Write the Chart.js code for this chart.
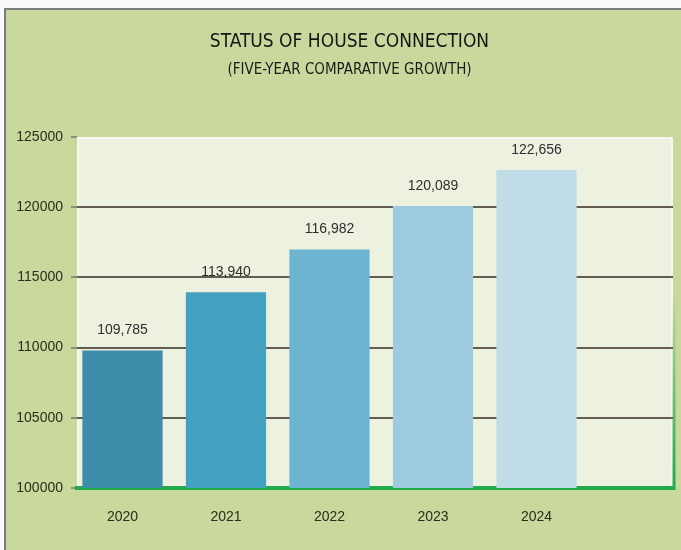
<!DOCTYPE html>
<html>
<head>
<meta charset="utf-8">
<script src="https://cdn.jsdelivr.net/npm/chart.js@4"></script>
<style>
  html, body { margin: 0; padding: 0; background: #fafafa; width: 681px; height: 550px; overflow: hidden; }
  #panel { position: absolute; left: 6px; top: 10px; width: 675px; height: 540px; background: #c9d89d;
           box-shadow: -1px -1px 0 1px #7d7d7d; }
  #houseChart { display: block; }
</style>
</head>
<body>
<div id="panel"><canvas id="houseChart"></canvas></div>
<script>
const years = [2020, 2021, 2022, 2023, 2024];
const connections = [109785, 113940, 116982, 120089, 122656];
const barColors = ['#3d8ca9', '#45a1c1', '#6db4d0', '#9ecbdf', '#bfdce8'];
const yTicks = { min: 100000, max: 125000, step: 5000 };
const titleText = 'STATUS OF HOUSE CONNECTION';
const subtitleText = '(FIVE-YEAR COMPARATIVE GROWTH)';

const narrow = "'Liberation Sans Narrow', 'DejaVu Sans Condensed', sans-serif";
const plain = "'Liberation Sans', Arial, sans-serif";

// plot area fill, green right edge and the two title lines
const plotBg = {
  id: 'plotBg',
  beforeDraw(chart) {
    const { ctx, chartArea: a } = chart;
    ctx.save();
    ctx.fillStyle = '#edf1e0';
    ctx.fillRect(a.left, a.top, a.width, a.height);
    ctx.strokeStyle = '#f6f8f0';
    ctx.lineWidth = 2;
    ctx.strokeRect(a.left + 1, a.top + 1, a.width - 2, a.height - 2);
    ctx.restore();
  },
  afterDraw(chart) {
    const { ctx, chartArea: a } = chart;
    const g = ctx.createLinearGradient(0, a.top + a.height * 0.45, 0, a.bottom);
    g.addColorStop(0, 'rgba(33,169,76,0)');
    g.addColorStop(1, 'rgba(33,169,76,1)');
    ctx.save();
    ctx.strokeStyle = g;
    ctx.lineWidth = 3;
    ctx.beginPath();
    ctx.moveTo(a.right + 1, a.top + a.height * 0.45);
    ctx.lineTo(a.right + 1, a.bottom + 2);
    ctx.stroke();

    // titles sit a little right of the canvas centre in the original
    const cx = chart.width / 2 + 6;
    ctx.textAlign = 'center';
    ctx.textBaseline = 'middle';
    ctx.fillStyle = '#161616';
    ctx.font = '19px ' + narrow;
    ctx.fillText(titleText, cx, 32);
    ctx.fillStyle = '#1c1c1c';
    ctx.font = '15px ' + narrow;
    ctx.fillText(subtitleText, cx, 60);
    ctx.restore();
  }
};

// value labels above the bars
const valueLabels = {
  id: 'valueLabels',
  afterDatasetsDraw(chart) {
    const { ctx } = chart;
    const meta = chart.getDatasetMeta(0);
    ctx.save();
    ctx.font = '14px ' + plain;
    ctx.fillStyle = '#2e2e2e';
    ctx.textAlign = 'center';
    ctx.textBaseline = 'middle';
    meta.data.forEach((bar, i) => {
      ctx.fillText(connections[i].toLocaleString('en-US'), bar.x, bar.y - 20);
    });
    ctx.restore();
  }
};

new Chart(document.getElementById('houseChart').getContext('2d'), {
  type: 'bar',
  data: {
    datasets: [{
      data: years.map((x, i) => ({ x: x, y: connections[i] })),
      backgroundColor: barColors,
      borderWidth: 0,
      categoryPercentage: 1,
      barPercentage: 0.775
    }]
  },
  options: {
    responsive: true,
    maintainAspectRatio: false,
    animation: false,
    layout: { padding: { top: 127, right: 8 } },
    plugins: {
      legend: { display: false },
      tooltip: { enabled: false },
      title: { display: false }
    },
    scales: {
      x: {
        type: 'linear',
        offset: false,
        min: 2019.5604,
        max: 2025.319,
        afterBuildTicks(scale) { scale.ticks = years.map(v => ({ value: v })); },
        afterFit(scale) { scale.height = 62; },
        grid: { display: false, drawTicks: false },
        border: { display: true, color: '#22aa4d', width: 4 },
        ticks: {
          padding: 21,
          color: '#26301a',
          font: { family: plain, size: 14 },
          callback: v => String(v)
        }
      },
      y: {
        min: yTicks.min,
        max: yTicks.max,
        afterFit(scale) { scale.width = 71; },
        border: { display: false },
        grid: {
          color: c => c.tick.value === yTicks.max ? 'rgba(0,0,0,0)' : '#625d50',
          lineWidth: 2,
          tickLength: 6,
          tickColor: '#8d8d80'
        },
        ticks: {
          stepSize: yTicks.step,
          padding: 8,
          color: '#26301a',
          font: { family: plain, size: 14 },
          callback: v => String(v)
        }
      }
    }
  },
  plugins: [plotBg, valueLabels]
});
</script>
</body>
</html>
